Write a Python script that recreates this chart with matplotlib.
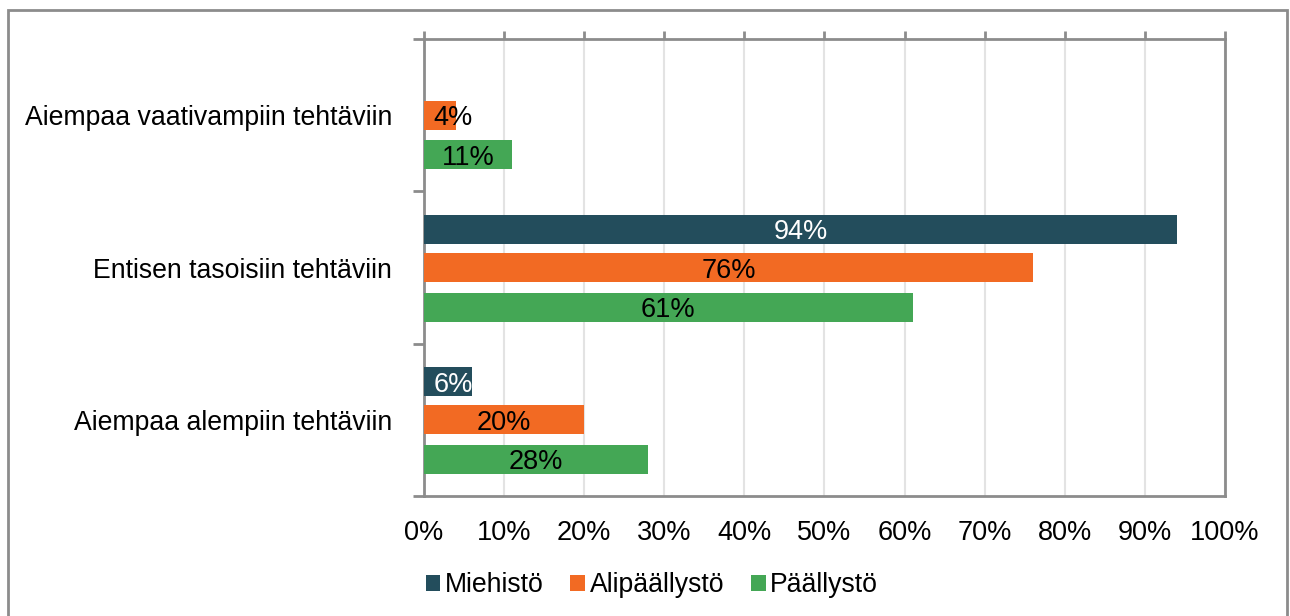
import numpy as np
import matplotlib.pyplot as plt
from matplotlib.patches import Rectangle, Patch

plt.rcParams['font.family'] = ['Liberation Sans', 'DejaVu Sans']

# luokat ylhäältä alas
categories = ['Aiempaa vaativampiin tehtäviin', 'Entisen tasoisiin tehtäviin', 'Aiempaa alempiin tehtäviin']
series = ['Miehistö', 'Alipäällystö', 'Päällystö']
miehisto = [0, 94, 6]
alipaallysto = [4, 76, 20]
paallysto = [11, 61, 28]
values = [miehisto, alipaallysto, paallysto]
colors = ['#234D5C', '#F26A23', '#44A755']
label_colors = ['white', 'black', 'black']
offsets = [-0.25, 0.0, 0.26]
bar_h = 0.19
grey = '#8C8C8C'
fs = 19.2

fig = plt.figure(figsize=(12.9, 6.16), dpi=100)
fig.patches.append(Rectangle((8 / 1290, -0.01), 1279 / 1290, 1 - 10 / 616 + 0.01,
                             transform=fig.transFigure, fill=False,
                             edgecolor=grey, linewidth=2))
ax = fig.add_axes([424 / 1290, 1 - 496 / 616, (1225 - 424) / 1290, (496 - 39) / 616])

y = np.arange(len(categories))
for vals, col, lcol, off in zip(values, colors, label_colors, offsets):
    bars = ax.barh(y + off, vals, height=bar_h, color=col, zorder=3)
    for b, v in zip(bars, vals):
        if v == 0:
            continue
        # kapean palkin otsikko ei mahdu keskelle, siirretään oikealle
        x = max(b.get_width() / 2, 3.6)
        ax.text(x, b.get_y() + b.get_height() / 2, f'{v}%',
                ha='center', va='center_baseline', color=lcol, fontsize=fs + 0.3, zorder=4)

ax.set_xlim(0, 100)
ax.set_ylim(2.5, -0.5)
ax.set_xticks(np.arange(0, 101, 10))
ax.set_xticklabels([f'{t}%' for t in range(0, 101, 10)])
ax.set_yticks(y)
ax.set_yticklabels(categories)
ax.set_yticks([-0.5, 0.5, 1.5, 2.5], minor=True)

ax.grid(axis='x', color='#E3E3E3', linewidth=1.5, zorder=0)
for s in ax.spines.values():
    s.set_color(grey)
    s.set_linewidth(2)

ax.tick_params(axis='x', top=True, bottom=False, labeltop=False, labelbottom=True,
               length=6, width=2, color=grey, labelsize=fs + 0.3, pad=11)
ax.tick_params(axis='y', which='major', length=0, labelsize=fs, pad=23)
ax.tick_params(axis='y', which='minor', length=8, width=2, color=grey)

handles = [Patch(facecolor=c, label=s) for s, c in zip(series, colors)]
fig.legend(handles=handles, loc='center', bbox_to_anchor=(0.5054, 0.05), ncol=3,
           frameon=False, fontsize=fs, handlelength=0.55, handleheight=0.55,
           handletextpad=0.17, columnspacing=1.0)

fig.savefig('out.png', dpi=100)
